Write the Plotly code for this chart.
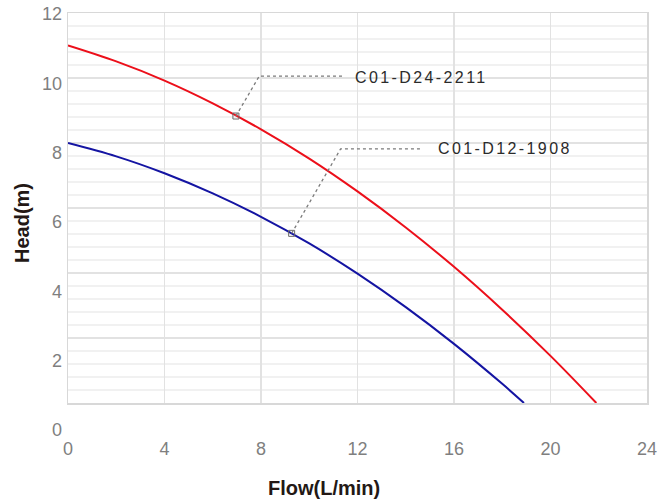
import plotly.graph_objects as go

# ---- data ----
red_name = "C01-D24-2211"
red_flow = [0, 2, 4, 6, 8, 10, 12, 14, 16, 18, 20, 21.9]
red_head = [11.0, 10.51, 9.92, 9.22, 8.42, 7.52, 6.51, 5.40, 4.19, 2.87, 1.45, 0.0]

blue_name = "C01-D12-1908"
blue_flow = [0, 2, 4, 6, 8, 10, 12, 14, 16, 18, 18.9]
blue_head = [8.0, 7.59, 7.07, 6.45, 5.73, 4.91, 3.98, 2.95, 1.82, 0.59, 0.0]

# leader lines: point on curve -> elbow -> end before label
red_leader_x = [6.96, 7.93, 11.4]
red_leader_y = [8.83, 10.06, 10.06]
red_label_pos = (11.8, 10.03)

blue_leader_x = [9.27, 11.3, 14.7]
blue_leader_y = [5.22, 7.82, 7.82]
blue_label_pos = (15.25, 7.82)

x_ticks = [0, 4, 8, 12, 16, 20, 24]
y_ticks = [0, 2, 4, 6, 8, 10, 12]

RED = "#ec0f1a"
BLUE = "#1414a2"
TICK_GRAY = "#7f7f7f"
FONT = "Liberation Sans, Arial, sans-serif"

fig = go.Figure()

fig.add_trace(go.Scatter(x=red_flow, y=red_head, mode="lines",
                         line=dict(color=RED, width=2, shape="spline", smoothing=1),
                         name=red_name, showlegend=False, hoverinfo="skip"))
fig.add_trace(go.Scatter(x=blue_flow, y=blue_head, mode="lines",
                         line=dict(color=BLUE, width=2, shape="spline", smoothing=1),
                         name=blue_name, showlegend=False, hoverinfo="skip"))

for lx, ly in [(red_leader_x, red_leader_y), (blue_leader_x, blue_leader_y)]:
    fig.add_trace(go.Scatter(x=lx, y=ly, mode="lines",
                             line=dict(color="#7a7a7a", width=1.3, dash="dot"),
                             showlegend=False, hoverinfo="skip"))
    fig.add_trace(go.Scatter(x=[lx[0]], y=[ly[0]], mode="markers",
                             marker=dict(symbol="square-open", size=6,
                                         color="#6a6a6a", line=dict(width=1)),
                             showlegend=False, hoverinfo="skip"))

# invisible trace to hold the tick-label axis
fig.add_trace(go.Scatter(x=[None], y=[None], xaxis="x2", yaxis="y2",
                         showlegend=False, hoverinfo="skip"))

W, H = 669, 504
top_px, plot_bottom_px, paper_bottom_px = 13, 403, 430
left_px, right_px = 68, 647
paper_h = paper_bottom_px - top_px

fig.update_layout(
    width=W, height=H,
    margin=dict(l=left_px, r=W - right_px, t=top_px, b=H - paper_bottom_px, pad=0,
                autoexpand=False),
    plot_bgcolor="rgba(0,0,0,0)", paper_bgcolor="white",
    font=dict(family=FONT),
    xaxis=dict(range=[0, 24], tickvals=x_ticks, ticktext=[str(v) for v in x_ticks],
               showgrid=True, gridcolor="#e2e2e2", gridwidth=1.5,
               showline=True, linecolor="#d8d8d8", linewidth=1.5, mirror=True,
               zeroline=False, ticks="", ticklabelstandoff=29,
               tickfont=dict(size=18, color=TICK_GRAY, family=FONT),
               anchor="y", fixedrange=True),
    yaxis=dict(range=[0, 12], domain=[(paper_bottom_px - plot_bottom_px) / paper_h, 1],
               dtick=2, showticklabels=False,
               showgrid=True, gridcolor="#e2e2e2", gridwidth=1.5,
               minor=dict(dtick=0.4, showgrid=True, gridcolor="#f1f1f1", gridwidth=1.5),
               showline=True, linecolor="#d8d8d8", linewidth=1.5, mirror=True,
               zeroline=False, ticks="", fixedrange=True),
    xaxis2=dict(range=[0, 24], visible=False, anchor="y2", fixedrange=True),
    yaxis2=dict(range=[0, 12.03], domain=[0, 1], anchor="free", position=0,
                tickvals=y_ticks, ticktext=[str(v) for v in y_ticks],
                showgrid=False, showline=False, zeroline=False, ticks="",
                ticklabelstandoff=6,
                tickfont=dict(size=18, color=TICK_GRAY, family=FONT), fixedrange=True),
    annotations=[
        dict(text="Flow(L/min)", xref="paper", yref="paper",
             x=(324 - left_px) / (right_px - left_px), y=(paper_bottom_px - 488) / paper_h,
             xanchor="center", yanchor="middle", showarrow=False,
             font=dict(size=20, color="#231815", family=FONT, weight="bold")),
        dict(text="Head(m)", xref="paper", yref="paper",
             x=(22 - left_px) / (right_px - left_px), y=(paper_bottom_px - 223) / paper_h,
             xanchor="center", yanchor="middle", showarrow=False, textangle=-90,
             font=dict(size=20, color="#231815", family=FONT, weight="bold")),
        dict(text='<span style="letter-spacing:2.4px">' + red_name + '</span>',
             x=red_label_pos[0], y=red_label_pos[1], xref="x", yref="y",
             xanchor="left", yanchor="middle", showarrow=False,
             font=dict(size=16, color="#2b2b2b", family=FONT)),
        dict(text='<span style="letter-spacing:2.4px">' + blue_name + '</span>',
             x=blue_label_pos[0], y=blue_label_pos[1], xref="x", yref="y",
             xanchor="left", yanchor="middle", showarrow=False,
             font=dict(size=16, color="#2b2b2b", family=FONT)),
    ],
)

fig.write_html(
    "out.html",
    config={"displayModeBar": False, "staticPlot": True},
    post_script="document.body.style.margin='0';document.body.style.overflow='hidden';",
)
